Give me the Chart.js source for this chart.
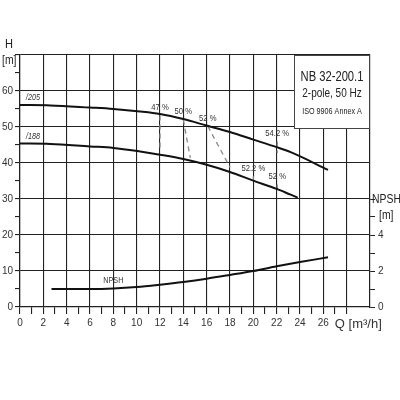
<!DOCTYPE html>
<html>
<head>
<meta charset="utf-8">
<script src="https://cdn.jsdelivr.net/npm/chart.js@4.4.1/dist/chart.umd.min.js"></script>
<style>
  html, body { margin: 0; padding: 0; background: #fff; }
  #wrap { width: 400px; height: 400px; }
</style>
</head>
<body>
<div id="wrap"><canvas id="c" width="400" height="400"></canvas></div>
<script>
// ---- Data ----
const q205 = [0, 2.6, 6, 8, 10.3, 12, 14, 16, 18, 20, 22, 23.2, 26.4];
const h205 = [56.1, 56.0, 55.4, 55.0, 54.3, 53.6, 52.2, 50.4, 48.6, 46.5, 44.4, 43.0, 38.1];

const q188 = [0, 2.6, 6, 8, 10.3, 12, 14, 16, 18, 20, 22, 23.2, 23.8];
const h188 = [45.4, 45.3, 44.6, 44.2, 43.2, 42.3, 41.1, 39.5, 37.5, 35.1, 32.8, 31.2, 30.4];

const qNpsh = [2.7, 6, 8, 10, 12, 14, 16, 18, 20, 22, 24, 26.4];
const npsh  = [1.0, 1.0, 1.03, 1.11, 1.24, 1.39, 1.57, 1.78, 2.0, 2.26, 2.5, 2.76];

const effLabels = ['47 %', '50 %', '52 %', '54.2 %', '52.2 %', '52 %'];
const effQTop   = [12.0, 14.0, 16.1, 22.05, 20.0, 22.05];
const effHTop   = [53.2, 52.0, 50.2, 46.0, 36.3, 34.0];
const effQBot   = [12.0, 14.6, 18.0, 22.05, 20.0, 22.05];
const effHBot   = [43.4, 41.4, 38.8, 42.8, 34.0, 32.1];

const curveLabels = ['/205', '/188'];
const xTickLabels = ['0','2','4','6','8','10','12','14','16','18','20','22','24','26'];
const qAxisTitle = 'Q [m\u00b3/h]';
const hAxisTitle = ['H', '[m]'];
const npshAxisTitle = ['NPSH', '[m]'];
const yTickValues = [0, 10, 20, 30, 40, 50, 60];
const npshTickValues = [0, 2, 4];
const boxLines = ['NB 32-200.1', '2-pole, 50 Hz', 'ISO 9906 Annex A'];

// ---- Build ----
const FONT = "'Liberation Sans', Arial, sans-serif";
Chart.defaults.font.family = FONT;
Chart.defaults.color = '#333';

function pts(xs, ys) { return xs.map((x, i) => ({ x: x, y: ys[i] })); }

const datasets = [
  { label: 'd205', data: pts(q205, h205), yAxisID: 'y', borderColor: '#111', borderWidth: 2, cubicInterpolationMode: 'monotone', pointRadius: 0 },
  { label: 'd188', data: pts(q188, h188), yAxisID: 'y', borderColor: '#111', borderWidth: 2, cubicInterpolationMode: 'monotone', pointRadius: 0 },
  { label: 'npsh', data: pts(qNpsh, npsh), yAxisID: 'y1', borderColor: '#111', borderWidth: 2, cubicInterpolationMode: 'monotone', pointRadius: 0 }
];
effLabels.forEach((l, i) => {
  datasets.push({
    label: 'eff' + i,
    data: [{ x: effQTop[i], y: effHTop[i] }, { x: effQBot[i], y: effHBot[i] }],
    yAxisID: 'y', borderColor: '#888', borderWidth: 1.3, borderDash: [5, 4], pointRadius: 0, tension: 0
  });
});

const GRID = '#222';

// condensed text helper (reference uses a narrow face)
function narrowText(ctx, str, x, y, size, align, sx, style) {
  ctx.save();
  ctx.translate(x, y);
  ctx.scale(sx, 1);
  ctx.font = (style ? style + ' ' : '') + size + 'px ' + FONT;
  ctx.textAlign = align;
  ctx.textBaseline = 'middle';
  ctx.fillText(str, 0, 0);
  ctx.restore();
}

const overlay = {
  id: 'overlay',
  afterDatasetsDraw(chart) {
    const ctx = chart.ctx;
    const xs = chart.scales.x, ys = chart.scales.y, y1 = chart.scales.y1;
    const ca = chart.chartArea;
    ctx.save();
    ctx.fillStyle = '#333';
    // efficiency labels
    effLabels.forEach((l, i) => {
      narrowText(ctx, l, xs.getPixelForValue(effQTop[i]), ys.getPixelForValue(effHTop[i]) - 8, 9, 'center', 0.85);
    });
    // curve labels
    narrowText(ctx, curveLabels[0], xs.getPixelForValue(q205[0]) + 6, ys.getPixelForValue(h205[0]) - 7, 8.5, 'left', 0.85, 'italic');
    narrowText(ctx, curveLabels[1], xs.getPixelForValue(q188[0]) + 6, ys.getPixelForValue(h188[0]) - 7, 8.5, 'left', 0.85, 'italic');
    narrowText(ctx, 'NPSH', xs.getPixelForValue(qNpsh[2]), y1.getPixelForValue(npsh[2]) - 8, 8.5, 'center', 0.85);
    // axis titles
    ctx.fillStyle = '#222';
    narrowText(ctx, npshAxisTitle[0], ca.right + 2, y1.getPixelForValue(6), 13, 'left', 0.8);
    narrowText(ctx, npshAxisTitle[1], ca.right + 9, y1.getPixelForValue(6) + 16, 13, 'left', 0.8);
    narrowText(ctx, hAxisTitle[0], ca.left - 15, ca.top - 11, 13, 'left', 0.85);
    narrowText(ctx, hAxisTitle[1], ca.left - 18, ca.top + 5, 13, 'left', 0.8);
    // info box
    const bw = 76, bh = 74;
    const bx = ca.right - bw, by = ca.top;
    ctx.fillStyle = '#fff';
    ctx.fillRect(bx, by, bw, bh);
    ctx.strokeStyle = '#444';
    ctx.lineWidth = 1;
    ctx.strokeRect(bx + 0.5, by + 0.5, bw - 1, bh - 1);
    ctx.fillStyle = '#222';
    const cx = bx + bw / 2;
    narrowText(ctx, boxLines[0], cx, by + 22, 14, 'center', 0.8);
    narrowText(ctx, boxLines[1], cx, by + 39, 12.5, 'center', 0.8);
    narrowText(ctx, boxLines[2], cx, by + 57, 9, 'center', 0.8);
    ctx.restore();
  }
};

new Chart(document.getElementById('c'), {
  type: 'line',
  data: { datasets: datasets },
  plugins: [overlay],
  options: {
    responsive: false,
    devicePixelRatio: 1,
    animation: false,
    layout: { padding: { top: 55, bottom: 63, left: 0, right: 0 } },
    plugins: { legend: { display: false }, tooltip: { enabled: false } },
    scales: {
      x: {
        type: 'linear', min: 0, max: 30,
        afterBuildTicks: (s) => { s.ticks = []; for (let v = 0; v <= 30; v++) s.ticks.push({ value: v }); },
        ticks: {
          autoSkip: false, maxRotation: 0, minRotation: 0, padding: 3,
          font: (c) => ({ size: c.tick && c.tick.value === 29 ? 13 : 10 }),
          callback: (v) => {
            if (v === 29) return qAxisTitle;
            if (v % 2 === 0 && v / 2 < xTickLabels.length) return xTickLabels[v / 2];
            return '';
          }
        },
        grid: {
          color: (c) => (c.tick && c.tick.value % 2 === 0 && c.tick.value < 30 ? GRID : 'rgba(0,0,0,0)'),
          tickColor: (c) => (c.tick && c.tick.value < 29 ? GRID : 'rgba(0,0,0,0)'),
          tickLength: 7, lineWidth: 1.1
        },
        border: { display: true, color: GRID, width: 1.2 },
        afterFit: (s) => { s.height = 30; s.paddingLeft = 0; s.paddingRight = 0; }
      },
      y: {
        type: 'linear', position: 'left', min: 0, max: 70,
        afterBuildTicks: (s) => { s.ticks = []; for (let v = 0; v <= 70; v += 5) s.ticks.push({ value: v }); },
        ticks: {
          autoSkip: false, padding: 2, font: { size: 10 },
          callback: (v) => (yTickValues.indexOf(v) >= 0 ? String(v) : '')
        },
        grid: {
          color: (c) => (c.tick && c.tick.value % 10 === 0 ? GRID : 'rgba(0,0,0,0)'),
          tickColor: GRID, tickLength: 5, lineWidth: 1.1
        },
        border: { display: true, color: GRID, width: 1.2 },
        afterFit: (s) => { s.width = 20; s.paddingTop = 0; s.paddingBottom = 0; }
      },
      y1: {
        type: 'linear', position: 'right', min: 0, max: 14,
        afterBuildTicks: (s) => { s.ticks = []; for (let v = 0; v <= 14; v++) s.ticks.push({ value: v }); },
        ticks: {
          autoSkip: false, padding: 3, font: { size: 10 },
          callback: (v) => (npshTickValues.indexOf(v) >= 0 ? String(v) : '')
        },
        grid: {
          drawOnChartArea: false,
          tickColor: (c) => (c.tick && c.tick.value <= 6 ? GRID : 'rgba(0,0,0,0)'),
          tickLength: 5
        },
        border: { display: true, color: GRID, width: 1.2 },
        afterFit: (s) => { s.width = 30; s.paddingTop = 0; s.paddingBottom = 0; }
      }
    }
  }
});
</script>
</body>
</html>
